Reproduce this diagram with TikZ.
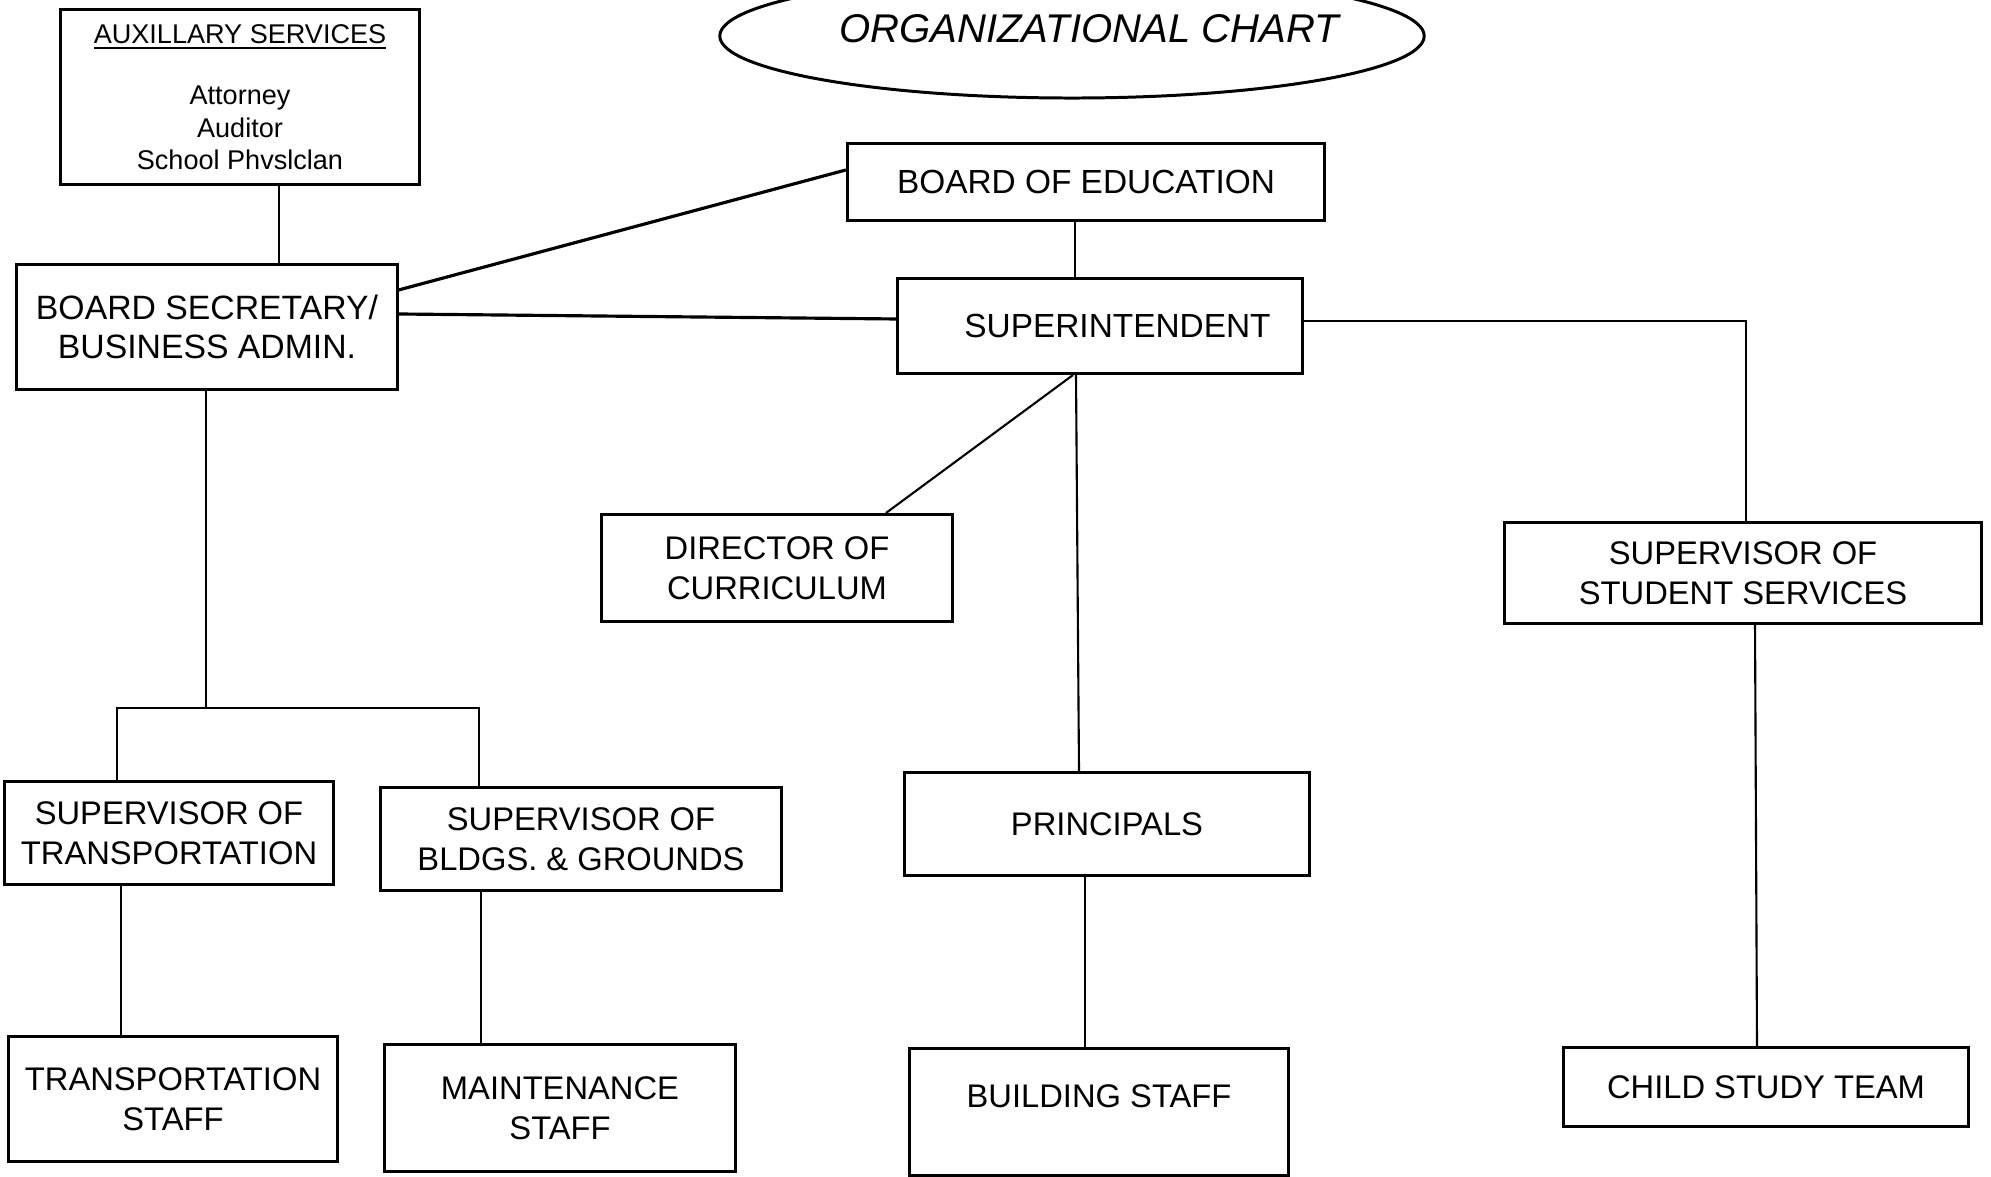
\documentclass[tikz,border=0pt]{standalone}
\usepackage{fontspec}
\setmainfont{Liberation Sans}
\usetikzlibrary{shapes.geometric}

\begin{document}
\begin{tikzpicture}[x=0.01cm,y=-0.01cm,
    box/.style={draw,line width=0.85pt,inner sep=0pt,align=center,font=\fontsize{9.3}{11.3}\selectfont},
    link/.style={line width=0.6pt},
    heavy/.style={line width=0.9pt}]
  \useasboundingbox (0,0) rectangle (1991,1177);
  \node[draw,ellipse,line width=0.85pt,inner sep=0pt,minimum width=7.04cm,minimum height=1.24cm,
        label={[xshift=0.17cm,yshift=0.07cm,font=\fontsize{11.4}{13}\selectfont\itshape]center:ORGANIZATIONAL CHART}] (title) at (1072,36) {};
  \node[box,minimum width=3.59cm,minimum height=1.74cm,font=\fontsize{7.7}{9.2}\selectfont] (aux) at (240,97)
       {\underline{AUXILLARY SERVICES}\\[8.4pt] Attorney\\ Auditor\\ School Phvslclan};
  \node[box,minimum width=4.77cm,minimum height=0.77cm,font=\fontsize{9.5}{11.3}\selectfont] (boe) at (1086,182) {BOARD OF EDUCATION};
  \node[box,minimum width=4.04cm,minimum height=0.95cm,font=\fontsize{9.5}{11.3}\selectfont] (super) at (1100,326) {\hspace{0.35cm}SUPERINTENDENT};
  \node[box,minimum width=3.80cm,minimum height=1.25cm,font=\fontsize{9.6}{11.3}\selectfont] (bsec) at (207,327) {BOARD SECRETARY/\\BUSINESS ADMIN.};
  \node[box,minimum width=3.51cm,minimum height=1.07cm] (dircur) at (777,568) {DIRECTOR OF\\CURRICULUM};
  \node[box,minimum width=4.76cm,minimum height=1.00cm] (sss) at (1743,573) {SUPERVISOR OF\\STUDENT SERVICES};
  \node[box,minimum width=3.29cm,minimum height=1.03cm] (suptrans) at (169,833) {SUPERVISOR OF\\TRANSPORTATION};
  \node[box,minimum width=4.01cm,minimum height=1.03cm] (supbldg) at (581,839) {SUPERVISOR OF\\BLDGS. \& GROUNDS};
  \node[box,minimum width=4.04cm,minimum height=1.02cm] (princ) at (1107,824) {PRINCIPALS};
  \node[box,minimum width=3.29cm,minimum height=1.24cm] (transstaff) at (173,1099) {TRANSPORTATION\\STAFF};
  \node[box,minimum width=3.50cm,minimum height=1.27cm] (maint) at (560,1108) {MAINTENANCE\\STAFF};
  \node[box,minimum width=3.79cm,minimum height=1.26cm] (bldgstaff) at (1099,1112) {BUILDING STAFF\\[-2pt]};
  \node[box,minimum width=4.05cm,minimum height=0.78cm] (cst) at (1766,1087) {CHILD STUDY TEAM};

  \coordinate (bsbus) at (206,708);
  \draw[link] (279,0 |- aux.south) -- (279,0 |- bsec.north);
  \draw[heavy] (bsec.east |- 0,290) -- (boe.west |- 0,170);
  \draw[heavy] (bsec.east |- 0,314) -- (super.west |- 0,319);
  \draw[link] (1075,0 |- boe.south) -- (1075,0 |- super.north);
  \draw[link,line width=0.7pt] (super.east |- 0,321) -| (1746,0 |- sss.north);
  \draw[link] (1073,0 |- super.south) -- (886,0 |- dircur.north);
  \draw[link] (1076,0 |- super.south) -- (1079,0 |- princ.north);
  \draw[link] (206,0 |- bsec.south) -- (bsbus);
  \draw[link] (117,0 |- suptrans.north) |- (bsbus) -| (479,0 |- supbldg.north);
  \draw[link] (121,0 |- suptrans.south) -- (121,0 |- transstaff.north);
  \draw[link] (481,0 |- supbldg.south) -- (481,0 |- maint.north);
  \draw[link] (1085,0 |- princ.south) -- (1085,0 |- bldgstaff.north);
  \draw[link] (1755,0 |- sss.south) -- (1757,0 |- cst.north);
\end{tikzpicture}
\end{document}
